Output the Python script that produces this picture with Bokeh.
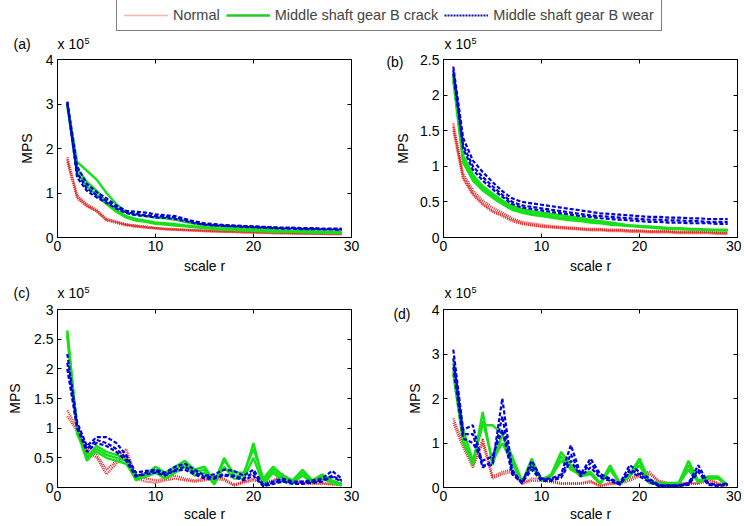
from bokeh.plotting import figure
from bokeh.layouts import column, row
from bokeh.models import (Range1d, FixedTicker, LinearAxis, Label, Legend,
                          LegendItem, CustomJSTickFormatter, ColumnDataSource)
from bokeh.embed import file_html
from bokeh.resources import INLINE

# ---------------- data (MPS in units of 1e5) ----------------
scale_r = list(range(1, 30))
class_names = ["Normal", "Middle shaft gear B crack", "Middle shaft gear B wear"]

# panel (a)
a_normal = [
    [1.80, 0.95, 0.75, 0.62, 0.42, 0.36, 0.30, 0.27, 0.25, 0.22, 0.20, 0.19, 0.18, 0.17, 0.16, 0.15, 0.14, 0.14, 0.13, 0.12, 0.12, 0.11, 0.11, 0.10, 0.10, 0.09, 0.09, 0.09, 0.08],
    [1.75, 0.88, 0.70, 0.58, 0.38, 0.33, 0.27, 0.24, 0.22, 0.20, 0.18, 0.17, 0.16, 0.15, 0.14, 0.13, 0.13, 0.12, 0.11, 0.11, 0.10, 0.10, 0.09, 0.09, 0.08, 0.08, 0.08, 0.07, 0.07],
    [1.70, 0.92, 0.72, 0.60, 0.40, 0.35, 0.29, 0.26, 0.23, 0.21, 0.19, 0.18, 0.17, 0.16, 0.15, 0.14, 0.13, 0.13, 0.12, 0.12, 0.11, 0.10, 0.10, 0.09, 0.09, 0.09, 0.08, 0.08, 0.08],
]
a_crack = [
    [3.00, 1.70, 1.50, 1.30, 1.00, 0.75, 0.57, 0.52, 0.48, 0.45, 0.43, 0.40, 0.35, 0.31, 0.28, 0.26, 0.24, 0.22, 0.21, 0.19, 0.18, 0.17, 0.16, 0.15, 0.15, 0.14, 0.13, 0.13, 0.12],
    [2.95, 1.55, 1.25, 1.05, 0.80, 0.62, 0.48, 0.42, 0.38, 0.34, 0.32, 0.30, 0.27, 0.25, 0.23, 0.21, 0.19, 0.18, 0.17, 0.16, 0.15, 0.14, 0.13, 0.13, 0.12, 0.12, 0.11, 0.11, 0.10],
    [3.00, 1.45, 1.15, 0.95, 0.75, 0.58, 0.45, 0.38, 0.35, 0.31, 0.29, 0.27, 0.25, 0.23, 0.21, 0.19, 0.18, 0.17, 0.16, 0.15, 0.14, 0.13, 0.13, 0.12, 0.12, 0.11, 0.11, 0.10, 0.10],
]
a_wear = [
    [3.05, 1.60, 1.20, 1.02, 0.88, 0.72, 0.60, 0.58, 0.56, 0.52, 0.50, 0.48, 0.42, 0.36, 0.32, 0.30, 0.28, 0.27, 0.26, 0.25, 0.24, 0.23, 0.22, 0.22, 0.21, 0.21, 0.20, 0.20, 0.20],
    [3.00, 1.45, 1.10, 0.95, 0.82, 0.68, 0.57, 0.53, 0.50, 0.48, 0.47, 0.45, 0.40, 0.34, 0.30, 0.28, 0.27, 0.26, 0.25, 0.24, 0.23, 0.22, 0.21, 0.21, 0.20, 0.20, 0.19, 0.19, 0.18],
    [3.05, 1.35, 1.05, 0.90, 0.78, 0.65, 0.55, 0.50, 0.48, 0.45, 0.44, 0.42, 0.37, 0.32, 0.29, 0.27, 0.26, 0.25, 0.24, 0.23, 0.22, 0.21, 0.20, 0.20, 0.19, 0.19, 0.18, 0.18, 0.17],
]

# panel (b)
b_normal = [
    [1.60, 0.90, 0.66, 0.52, 0.42, 0.35, 0.27, 0.22, 0.20, 0.18, 0.16, 0.15, 0.14, 0.13, 0.12, 0.12, 0.11, 0.11, 0.10, 0.10, 0.09, 0.09, 0.09, 0.08, 0.08, 0.08, 0.08, 0.07, 0.07],
    [1.55, 0.85, 0.62, 0.48, 0.38, 0.32, 0.25, 0.20, 0.18, 0.16, 0.15, 0.14, 0.13, 0.12, 0.11, 0.11, 0.10, 0.10, 0.09, 0.09, 0.08, 0.08, 0.08, 0.07, 0.07, 0.07, 0.07, 0.06, 0.06],
    [1.50, 0.82, 0.60, 0.46, 0.36, 0.30, 0.23, 0.19, 0.17, 0.15, 0.14, 0.13, 0.12, 0.11, 0.10, 0.10, 0.09, 0.09, 0.08, 0.08, 0.07, 0.07, 0.07, 0.06, 0.06, 0.06, 0.06, 0.05, 0.05],
]
b_crack = [
    [2.30, 1.15, 0.88, 0.72, 0.62, 0.52, 0.44, 0.40, 0.37, 0.35, 0.33, 0.31, 0.29, 0.27, 0.25, 0.23, 0.21, 0.19, 0.17, 0.16, 0.15, 0.14, 0.13, 0.13, 0.12, 0.12, 0.11, 0.11, 0.11],
    [2.20, 1.05, 0.80, 0.66, 0.56, 0.47, 0.39, 0.35, 0.32, 0.30, 0.28, 0.26, 0.24, 0.23, 0.21, 0.20, 0.18, 0.17, 0.16, 0.15, 0.14, 0.13, 0.12, 0.12, 0.11, 0.11, 0.10, 0.10, 0.10],
    [2.25, 1.10, 0.84, 0.69, 0.59, 0.50, 0.42, 0.37, 0.34, 0.32, 0.30, 0.28, 0.27, 0.25, 0.23, 0.22, 0.20, 0.18, 0.17, 0.16, 0.15, 0.14, 0.13, 0.12, 0.12, 0.11, 0.11, 0.10, 0.10],
]
b_wear = [
    [2.40, 1.40, 1.08, 0.92, 0.78, 0.65, 0.55, 0.50, 0.48, 0.46, 0.44, 0.42, 0.40, 0.38, 0.36, 0.34, 0.33, 0.32, 0.31, 0.30, 0.29, 0.29, 0.28, 0.28, 0.27, 0.27, 0.26, 0.26, 0.26],
    [2.35, 1.30, 1.00, 0.85, 0.72, 0.60, 0.50, 0.45, 0.43, 0.41, 0.39, 0.37, 0.35, 0.33, 0.31, 0.30, 0.29, 0.28, 0.27, 0.26, 0.25, 0.25, 0.24, 0.24, 0.23, 0.23, 0.22, 0.22, 0.22],
    [2.30, 1.25, 0.95, 0.80, 0.68, 0.57, 0.47, 0.42, 0.40, 0.38, 0.36, 0.34, 0.32, 0.30, 0.29, 0.27, 0.26, 0.25, 0.24, 0.23, 0.22, 0.22, 0.21, 0.21, 0.20, 0.20, 0.20, 0.19, 0.19],
]

# panel (c)
c_normal = [
    [1.30, 1.00, 0.65, 0.55, 0.30, 0.45, 0.65, 0.20, 0.15, 0.12, 0.15, 0.20, 0.15, 0.12, 0.15, 0.18, 0.15, 0.05, 0.10, 0.15, 0.10, 0.12, 0.20, 0.12, 0.10, 0.08, 0.08, 0.06, 0.05],
    [1.20, 0.95, 0.60, 0.50, 0.22, 0.40, 0.55, 0.15, 0.10, 0.08, 0.12, 0.15, 0.12, 0.10, 0.12, 0.15, 0.12, 0.03, 0.08, 0.12, 0.08, 0.10, 0.22, 0.10, 0.08, 0.06, 0.06, 0.05, 0.04],
]
c_crack = [
    [2.65, 0.95, 0.45, 0.65, 0.55, 0.50, 0.45, 0.12, 0.20, 0.30, 0.20, 0.30, 0.40, 0.25, 0.30, 0.08, 0.50, 0.20, 0.20, 0.75, 0.10, 0.30, 0.15, 0.10, 0.25, 0.10, 0.20, 0.10, 0.05],
    [2.55, 0.90, 0.55, 0.60, 0.50, 0.45, 0.40, 0.15, 0.18, 0.25, 0.15, 0.25, 0.35, 0.20, 0.25, 0.05, 0.35, 0.15, 0.15, 0.50, 0.05, 0.25, 0.10, 0.08, 0.20, 0.08, 0.15, 0.08, 0.03],
    [2.60, 1.00, 0.50, 0.70, 0.60, 0.55, 0.50, 0.20, 0.22, 0.35, 0.25, 0.35, 0.45, 0.30, 0.35, 0.10, 0.45, 0.25, 0.25, 0.65, 0.15, 0.35, 0.20, 0.12, 0.30, 0.12, 0.22, 0.12, 0.06],
]
c_wear = [
    [2.25, 1.10, 0.70, 0.85, 0.85, 0.75, 0.55, 0.25, 0.28, 0.30, 0.25, 0.35, 0.40, 0.30, 0.20, 0.22, 0.30, 0.28, 0.20, 0.30, 0.05, 0.10, 0.15, 0.10, 0.10, 0.12, 0.15, 0.28, 0.15],
    [2.10, 1.05, 0.65, 0.80, 0.75, 0.65, 0.50, 0.20, 0.22, 0.25, 0.20, 0.30, 0.35, 0.25, 0.18, 0.18, 0.22, 0.20, 0.15, 0.25, 0.03, 0.08, 0.12, 0.08, 0.08, 0.10, 0.12, 0.20, 0.12],
    [2.00, 1.00, 0.60, 0.75, 0.70, 0.60, 0.45, 0.18, 0.25, 0.28, 0.22, 0.28, 0.30, 0.22, 0.15, 0.15, 0.20, 0.18, 0.12, 0.20, 0.02, 0.06, 0.10, 0.06, 0.06, 0.08, 0.10, 0.18, 0.10],
]

# panel (d)
d_normal = [
    [1.55, 1.00, 0.50, 1.10, 0.25, 0.35, 0.40, 0.10, 0.20, 0.20, 0.15, 0.10, 0.10, 0.10, 0.15, 0.05, 0.10, 0.10, 0.20, 0.30, 0.35, 0.15, 0.10, 0.10, 0.10, 0.10, 0.20, 0.10, 0.05],
    [1.45, 0.90, 0.45, 1.00, 0.20, 0.30, 0.35, 0.08, 0.15, 0.15, 0.12, 0.08, 0.08, 0.08, 0.12, 0.03, 0.08, 0.08, 0.15, 0.25, 0.30, 0.12, 0.08, 0.08, 0.08, 0.08, 0.15, 0.08, 0.03],
]
d_crack = [
    [2.55, 1.10, 0.50, 1.70, 0.50, 1.20, 0.60, 0.10, 0.65, 0.15, 0.30, 0.80, 0.50, 0.30, 0.35, 0.10, 0.50, 0.10, 0.30, 0.65, 0.15, 0.10, 0.10, 0.10, 0.60, 0.15, 0.25, 0.25, 0.05],
    [2.80, 1.30, 0.60, 1.40, 1.40, 1.20, 0.70, 0.15, 0.45, 0.20, 0.25, 0.60, 0.45, 0.25, 0.30, 0.08, 0.40, 0.08, 0.25, 0.50, 0.10, 0.08, 0.08, 0.08, 0.40, 0.12, 0.20, 0.20, 0.04],
    [2.60, 1.00, 0.55, 1.50, 0.60, 1.00, 0.55, 0.12, 0.55, 0.18, 0.28, 0.70, 0.40, 0.28, 0.32, 0.09, 0.45, 0.09, 0.28, 0.60, 0.12, 0.09, 0.09, 0.09, 0.50, 0.14, 0.22, 0.22, 0.05],
]
d_wear = [
    [3.10, 1.30, 1.40, 0.50, 0.50, 2.00, 0.40, 0.10, 0.60, 0.20, 0.20, 0.30, 0.95, 0.30, 0.65, 0.30, 0.20, 0.10, 0.50, 0.35, 0.20, 0.05, 0.05, 0.05, 0.10, 0.50, 0.10, 0.05, 0.10],
    [2.90, 1.20, 1.20, 0.45, 0.60, 1.60, 0.35, 0.12, 0.50, 0.18, 0.18, 0.25, 0.75, 0.28, 0.55, 0.25, 0.18, 0.08, 0.40, 0.30, 0.15, 0.04, 0.04, 0.04, 0.08, 0.40, 0.08, 0.04, 0.08],
    [2.70, 1.10, 1.00, 0.60, 0.70, 1.30, 0.30, 0.10, 0.40, 0.15, 0.15, 0.22, 0.60, 0.25, 0.45, 0.22, 0.15, 0.06, 0.35, 0.25, 0.12, 0.03, 0.03, 0.03, 0.06, 0.35, 0.06, 0.03, 0.06],
]

x_ticks = [0, 10, 20, 30]
a_yticks = [0, 1, 2, 3, 4]
b_yticks = [0, 0.5, 1, 1.5, 2, 2.5]
c_yticks = [0, 0.5, 1, 1.5, 2, 2.5, 3]
d_yticks = [0, 1, 2, 3, 4]
panel_tags = ["(a)", "(b)", "(c)", "(d)"]
exp_base, exp_power = "x 10", "5"

# ---------------- styling ----------------
FONT = "Liberation Sans"
FS = "14px"
RED, GREEN, BLUE = "#e02424", "#18e018", "#0000d8"
STYLES = [
    dict(line_color=RED, line_width=2.2, line_dash="1 1"),
    dict(line_color=GREEN, line_width=2.4),
    dict(line_color=BLUE, line_width=2.2, line_dash="4 2"),
]


def style_text_axis(ax):
    ax.major_label_text_font = FONT
    ax.major_label_text_font_size = FS
    ax.major_label_text_color = "black"
    ax.axis_label_text_font = FONT
    ax.axis_label_text_font_size = FS
    ax.axis_label_text_font_style = "normal"
    ax.axis_label_text_color = "black"


def make_panel(yticks, groups, left, right, top, bottom, fw, ylab_standoff,
               xlab_standoff, tag=None, tag_at=None, tag_standoff=0):
    p = figure(frame_width=fw, frame_height=178,
               x_range=Range1d(0, 30), y_range=Range1d(0, yticks[-1]),
               output_backend="svg", toolbar_location=None,
               min_border_left=left, min_border_right=right,
               min_border_top=top, min_border_bottom=bottom)
    p.grid.visible = False
    p.outline_line_color = "black"
    for grp, st in zip(groups, STYLES):
        for ys in grp:
            p.line(scale_r, ys, **st)
    p.xaxis.ticker = FixedTicker(ticks=x_ticks)
    p.yaxis.ticker = FixedTicker(ticks=yticks)
    p.yaxis.formatter = CustomJSTickFormatter(code="return String(tick);")
    p.xaxis.axis_label = "scale r"
    p.yaxis.axis_label = "MPS"
    for ax in (p.xaxis[0], p.yaxis[0]):
        ax.major_tick_in = 4
        ax.major_tick_out = 0
        ax.minor_tick_line_color = None
        ax.axis_line_color = "black"
        style_text_axis(ax)
    p.xaxis.major_label_standoff = 3
    p.xaxis.axis_label_standoff = xlab_standoff
    p.yaxis.major_label_standoff = 4
    p.yaxis.axis_label_standoff = ylab_standoff
    # inward ticks on the top and right edges of the box
    for side, ticks in (("above", x_ticks), ("right", yticks)):
        ax = LinearAxis(ticker=FixedTicker(ticks=[], minor_ticks=ticks),
                        minor_tick_in=4, minor_tick_out=0,
                        minor_tick_line_color="black",
                        major_tick_line_color=None, axis_line_color=None,
                        major_label_standoff=0)
        p.add_layout(ax, side)
    if tag is not None:
        tax = LinearAxis(ticker=FixedTicker(ticks=[tag_at]),
                         formatter=CustomJSTickFormatter(args=dict(t=tag), code="return t;"),
                         major_tick_line_color=None, minor_tick_line_color=None,
                         axis_line_color=None, major_label_standoff=tag_standoff)
        style_text_axis(tax)
        p.add_layout(tax, "left")
    return p


def strip(height, labels):
    s = figure(width=741, height=height, x_range=Range1d(0, 1), y_range=Range1d(0, 1),
               x_axis_type=None, y_axis_type=None, output_backend="svg",
               toolbar_location=None, min_border=0)
    s.outline_line_color = None
    for text, x, y, size, baseline in labels:
        s.add_layout(Label(x=x, y=y, x_units="screen", y_units="screen", text=text,
                           text_font=FONT, text_font_size=size,
                           text_baseline=baseline, text_align="left",
                           text_color="black"))
    return s


# top strip: legend + tags / exponents of the first row
top = strip(52, [(panel_tags[0], 13, 1, FS, "bottom"),
                 (exp_base, 57, 1, FS, "bottom"),
                 (exp_power, 84, 12, "9px", "middle"),
                 (exp_base, 444, 1, FS, "bottom"),
                 (exp_power, 471, 12, "9px", "middle")])
dummy = ColumnDataSource(data=dict(x=[-2, -1], y=[-2, -1]))
r_n = top.line("x", "y", source=dummy, line_color="#e86a6a", line_width=1.5, line_dash="1 1")
r_c = top.line("x", "y", source=dummy, line_color="#22cc22", line_width=2.5)
r_w = top.line("x", "y", source=dummy, line_color="#1010a0", line_width=2, line_dash="2 1")
leg = Legend(items=[LegendItem(label=class_names[0], renderers=[r_n]),
                    LegendItem(label=class_names[1], renderers=[r_c]),
                    LegendItem(label=class_names[2], renderers=[r_w])],
             orientation="horizontal", location=(116, 21),
             label_text_font=FONT, label_text_font_size="14.5px",
             label_height=14, glyph_height=14, glyph_width=44,
             label_standoff=5, spacing=6, padding=7, margin=0,
             border_line_color="black", border_line_width=1,
             background_fill_color="white", background_fill_alpha=1)
top.add_layout(leg, "center")

pa = make_panel(a_yticks, [a_normal, a_crack, a_wear], 57, 10, 7, 43, 294, 8, 4)
pb = make_panel(b_yticks, [b_normal, b_crack, b_wear], 82, 4, 7, 43, 294, 6, 4,
                tag=panel_tags[1], tag_at=b_yticks[-1], tag_standoff=-17)

mid = strip(21, [(panel_tags[2], 13, 1, FS, "bottom"),
                 (exp_base, 57, 1, FS, "bottom"),
                 (exp_power, 84, 12, "9px", "middle"),
                 (exp_base, 444, 1, FS, "bottom"),
                 (exp_power, 471, 12, "9px", "middle")])

pc = make_panel(c_yticks, [c_normal, c_crack, c_wear], 57, 10, 8, 37, 294, 8, 2)
pd = make_panel(d_yticks, [d_normal, d_crack, d_wear], 82, 4, 8, 37, 294, 6, 2,
                tag=panel_tags[3], tag_at=3.9, tag_standoff=-13)

layout = column(top, row(pa, pb), mid, row(pc, pd))

open("out.html", "w").write(file_html(layout, INLINE))
